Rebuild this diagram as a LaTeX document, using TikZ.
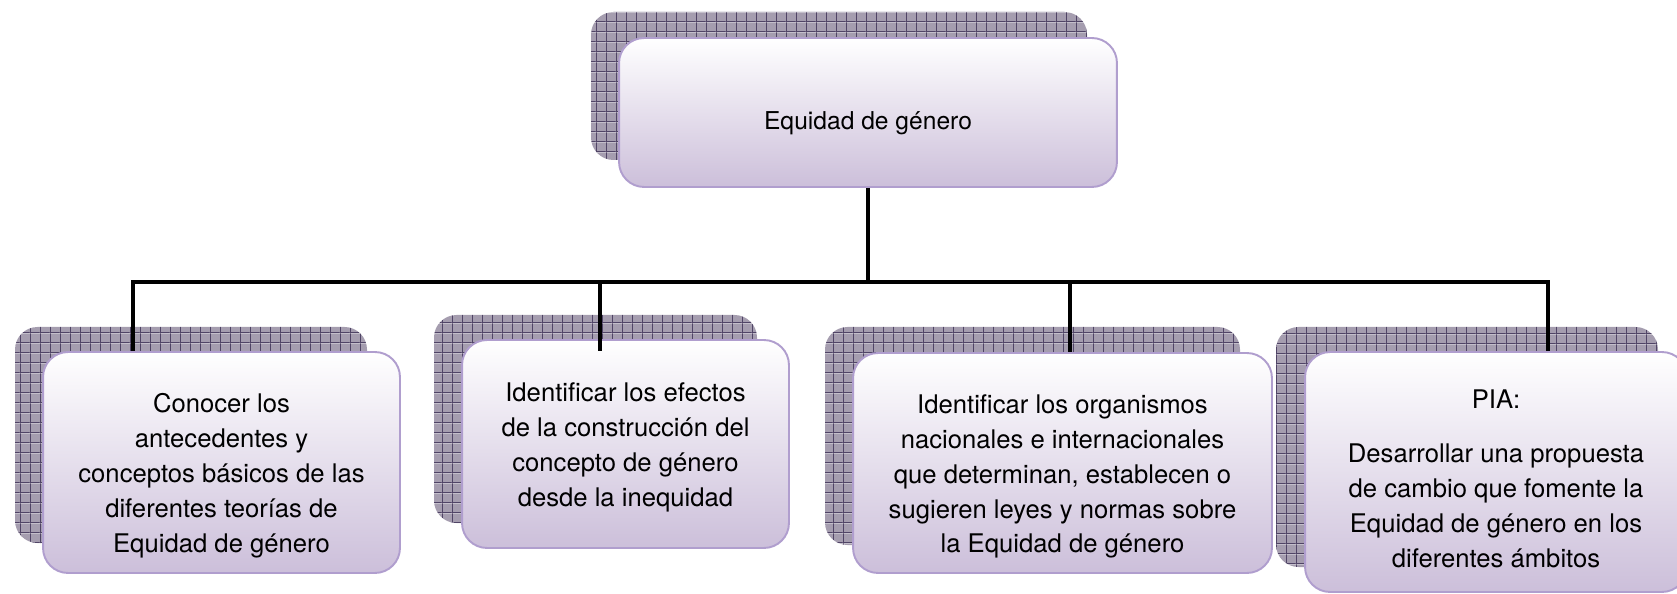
\documentclass[tikz,border=0pt]{standalone}
\usepackage{fontspec}
\setmainfont{TeX Gyre Heros}
\usetikzlibrary{patterns.meta}

\definecolor{boxtop}{RGB}{255,255,255}
\definecolor{boxbottom}{RGB}{204,191,218}
\definecolor{boxline}{RGB}{176,158,206}
\definecolor{gridfill}{RGB}{165,157,175}
\definecolor{gridline}{RGB}{80,68,102}

% checkered shadow behind every box
\tikzdeclarepattern{
  name=shadowgrid,
  type=colored,
  bottom left={(0pt,0pt)},
  top right={(5.86pt,5.86pt)},
  tile size={(5.86pt,5.86pt)},
  code={
    \fill[gridfill] (0pt,0pt) rectangle (5.86pt,5.86pt);
    \fill[gridline] (0pt,0pt) rectangle (5.86pt,0.5pt);
    \fill[gridline] (0pt,0pt) rectangle (0.5pt,5.86pt);
  }
}

% pushes the text of a box a little down
\newcommand{\padtop}[1]{\rule{0pt}{#1}}

\tikzset{
  goalbox/.style={draw=boxline, line width=1.1pt, rounded corners=0.5cm,
    top color=boxtop, bottom color=boxbottom, align=center,
    font=\fontsize{14.6}{19.9}\selectfont},
  shadowbox/.style={pattern=shadowgrid, rounded corners=0.45cm},
  link/.style={line width=2.3pt, black}
}

\begin{document}
\begin{tikzpicture}[x=0.02cm, y=-0.02cm]
\useasboundingbox (0,0) rectangle (1677,594);
% shadows
\path[shadowbox] (591,12) rectangle (1087,160);
\path[shadowbox] (15,327) rectangle (367,543);
\path[shadowbox] (434,315) rectangle (757,523);
\path[shadowbox] (825,327) rectangle (1240,545);
\path[shadowbox] (1276,327) rectangle (1658,567);

% main title
\node[goalbox, minimum width=9.96cm, minimum height=2.98cm] (top) at (868,112.5)
  {\fontsize{14}{19}\selectfont\padtop{22pt}Equidad de género};

% four goals
\node[goalbox, minimum width=7.14cm, minimum height=4.42cm] (b1) at (221.5,462.5)
  {\padtop{26pt}Conocer los\\ antecedentes y\\ conceptos básicos de las\\ diferentes teorías de\\ Equidad de género};
\node[goalbox, minimum width=6.54cm, minimum height=4.16cm] (b2) at (625.5,444)
  {\padtop{15pt}Identificar los efectos\\ de la construcción del\\ concepto de género\\ desde la inequidad};
\node[goalbox, minimum width=8.38cm, minimum height=4.4cm] (b3) at (1062.5,463)
  {\padtop{26pt}Identificar los organismos\\ nacionales e internacionales\\ que determinan, establecen o\\ sugieren leyes y normas sobre\\ la Equidad de género};
\node[goalbox, minimum width=7.64cm, minimum height=4.8cm] (b4) at (1496,472)
  {\padtop{18pt}PIA:\\[11pt] Desarrollar una propuesta\\ de cambio que fomente la\\ Equidad de género en los\\ diferentes ámbitos};

% bus line
\coordinate (bus1) at (133,282);
\coordinate (bus2) at (600,282);
\coordinate (bus3) at (1070,282);
\coordinate (bus4) at (1548,282);
\draw[link] (top.south) -- (top.south |- bus1);
\draw[link] (bus1 |- b1.north) -- (bus1) -- (bus4) -- (bus4 |- b4.north);
\draw[link, shorten >=-0.24cm] (bus2) -- (bus2 |- b2.north);
\draw[link] (bus3) -- (bus3 |- b3.north);
\end{tikzpicture}
\end{document}
